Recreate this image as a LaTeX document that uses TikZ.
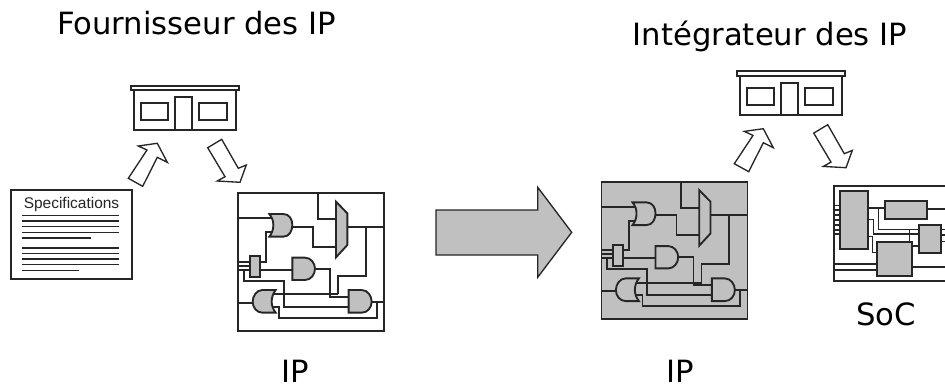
\documentclass[tikz,border=0pt]{standalone}
\usepackage{fontspec}
\setmainfont{DejaVu Sans}
\newfontfamily\specfont{Liberation Sans}
\definecolor{gatefill}{HTML}{C0C0C0}
\definecolor{ink}{HTML}{262626}
\tikzset{
  wire/.style={draw=ink,line width=1.4pt},
  docline/.style={draw=ink,line width=1pt},
  outline/.style={draw=ink,line width=1.4pt},
  hollow/.style={draw=ink,line width=1pt,fill=white},
  gate/.style={draw=ink,line width=1.4pt,fill=gatefill},
  title/.style={font=\fontsize{23pt}{27pt}\selectfont,inner sep=0pt,text=black},
  doctext/.style={font=\specfont\fontsize{11.6pt}{13pt}\selectfont,inner sep=0pt,text=ink}
}
\newcommand{\shopgroup}{%
  \draw[outline] (131,85.7) rectangle (239,90.3);
  \draw[outline] (134,90.3) rectangle (236,130);
  \draw[outline] (141,102.7) rectangle (168,120);
  \draw[outline] (199,102.7) rectangle (226.7,120);
  \draw[outline] (175,97.3) rectangle (192,130);
  \draw[hollow] (128.3,178.3) -- (147,150) -- (138.3,146) -- (157.3,143.3) -- (167.3,162.3) -- (157.3,157.3) -- (142.7,186.3) -- cycle;
  \draw[hollow] (207.7,147.7) -- (221.7,139.3) -- (238.3,168.3) -- (246.3,165) -- (240,182.3) -- (217.3,181) -- (225,176.7) -- cycle;
}
\newcommand{\circuitgroup}[1]{%
  \begin{scope}[x=0.25pt,y=-0.25pt]
  \draw[outline,fill=#1] (25,40) rectangle (463,452);
  \draw[wire] (263,40) -- (263,118) -- (318,118);
  \draw[wire] (25,115) -- (125,115);
  \draw[wire] (130,157) -- (108,157) -- (108,245) -- (90,245);
  \draw[wire] (187,140) -- (250,140) -- (250,200) -- (318,200);
  \draw[wire] (352,140) -- (463,140);
  \draw[wire] (408,140) -- (408,288) -- (325,288) -- (325,343);
  \draw[wire] (90,270) -- (187,270);
  \draw[wire] (255,266) -- (301,266) -- (301,350) -- (356,350);
  \draw[wire] (25,245) -- (60,245);
  \draw[wire] (25,258) -- (60,258);
  \draw[wire] (25,270) -- (60,270);
  \draw[wire] (42,270) -- (42,303) -- (162,303) -- (162,380) -- (356,380);
  \draw[wire] (25,368) -- (68,368);
  \draw[wire] (132,343) -- (325,343);
  \draw[wire] (125,380) -- (148,380) -- (148,414) -- (441,414) -- (441,365);
  \draw[wire] (425,365) -- (463,365);
  \draw[gate] (118,102) -- (160,102) .. controls (178,102) and (187,118) .. (187,135) .. controls (187,152) and (178,170) .. (160,170) -- (118,170) .. controls (126,160) and (130,148) .. (130,135) .. controls (130,122) and (126,112) .. (118,102) -- cycle;
  \draw[gate] (318,65) -- (352,100) -- (352,195) -- (318,232) -- cycle;
  \draw[gate] (187,233) -- (225,233) .. controls (243,233) and (255,250) .. (255,266) .. controls (255,283) and (243,300) .. (225,300) -- (187,300) -- cycle;
  \draw[gate] (60,229) rectangle (90,292);
  \draw[gate] (137,330) -- (97,330) .. controls (80,330) and (68,348) .. (68,365) .. controls (68,382) and (80,398) .. (97,398) -- (137,398) .. controls (129,388) and (125,376) .. (125,365) .. controls (125,352) and (129,340) .. (137,330) -- cycle;
  \draw[gate] (356,330) -- (395,330) .. controls (413,330) and (425,348) .. (425,365) .. controls (425,382) and (413,398) .. (395,398) -- (356,398) -- cycle;
  \end{scope}
}
\begin{document}
\begin{tikzpicture}[x=0.75pt,y=-0.75pt]
\useasboundingbox (0,0) rectangle (945,387);
\clip (0,0) rectangle (945,387);
\fill[white] (0,0) rectangle (945,387);
% titles
\node[title] (t1) at (196.5,23.5) {Fournisseur des IP};
\node[title] (t2) at (770,36) {Intégrateur des IP};
\node[title] (ip1) at (295,371) {IP};
\node[title] (ip2) at (680,371) {IP};
\node[title] (soc) at (886,314) {SoC};
% shops
\shopgroup
\begin{scope}[shift={(606,-14.6)}]\shopgroup\end{scope}
% specifications
\draw[outline] (11,190) rectangle (131.7,279);
\node[doctext] (spec) at (71.5,204) {Specifications};
\foreach \yy in {215.3,221,226.7,232.3,248,253.3,259,264.7}
  \draw[docline] (22,\yy) -- (119,\yy);
\draw[docline] (22,238) -- (91,238);
\draw[docline] (22,270.3) -- (79,270.3);
% circuits
\begin{scope}[shift={(230,180)}]\circuitgroup{white}\end{scope}
\begin{scope}[shift={(593.2,168.4)}]\circuitgroup{gatefill}\end{scope}
% big arrow
\draw[gate,line width=1pt] (436,210) -- (537.7,210) -- (537.7,187.3) -- (571.7,232.3) -- (537.7,277.3) -- (537.7,255) -- (436,255) -- cycle;
% SoC
\begin{scope}[shift={(700,60)},x=0.25pt,y=-0.25pt]
  \draw[outline] (403,377) rectangle (760,663);
  \foreach \yy in {437,450,465,480,495,510,522} \draw[docline] (403,\yy) -- (421,\yy);
  \draw[wire] (505,443) -- (555,443);
  \draw[wire] (680,448) -- (760,448);
  \draw[docline] (535,443) -- (535,508) -- (657,508);
  \draw[docline] (505,478) -- (521,478) -- (521,522) -- (657,522);
  \draw[docline] (628,508) -- (628,545);
  \draw[docline] (505,530) -- (517,530) -- (517,577) -- (530,577);
  \draw[docline] (637,558) -- (657,558);
  \foreach \yy in {508,525,545} \draw[docline] (722,\yy) -- (760,\yy);
  \draw[wire] (403,612) -- (530,612);
  \draw[wire] (403,630) -- (530,630);
  \draw[wire] (637,620) -- (760,620);
  \draw[gate] (421,393) rectangle (505,567);
  \draw[gate] (555,423) rectangle (680,478);
  \draw[gate] (657,495) rectangle (722,578);
  \draw[gate] (530,545) rectangle (637,647);
\end{scope}
\end{tikzpicture}
\end{document}
